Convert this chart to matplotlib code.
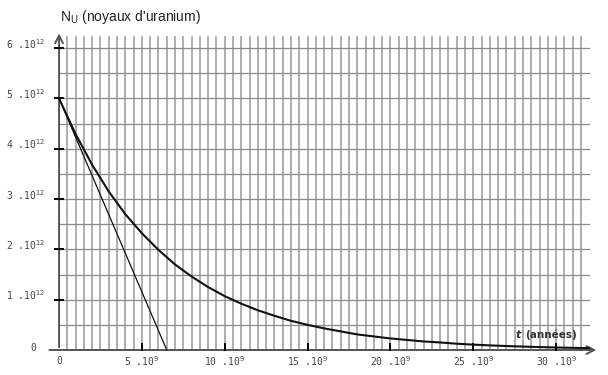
import matplotlib
matplotlib.use("Agg")
import matplotlib.pyplot as plt

# time in units of 1e9 years, N in units of 1e12 nuclei
t_vals = [0, 1, 2, 3, 4, 5, 6, 7, 8, 9, 10, 11, 12, 13, 14, 15, 16,
          17, 18, 19, 20, 21, 22, 23, 24, 25, 26, 27, 28, 29, 30, 31, 32]
n_vals = [5.00, 4.29, 3.68, 3.15, 2.70, 2.32, 1.99, 1.70, 1.46, 1.25, 1.07,
          0.92, 0.79, 0.68, 0.58, 0.50, 0.43, 0.37, 0.31, 0.27, 0.23, 0.20,
          0.17, 0.15, 0.125, 0.107, 0.092, 0.079, 0.068, 0.058, 0.050,
          0.043, 0.037]
tangent_t = [0, 6.5]
tangent_n = [5.0, 0]

y_ticks = [0, 1, 2, 3, 4, 5, 6]
y_labels = ["0", "1 .10$^{12}$", "2 .10$^{12}$", "3 .10$^{12}$",
            "4 .10$^{12}$", "5 .10$^{12}$", "6 .10$^{12}$"]
x_ticks = [5, 10, 15, 20, 25, 30]
x_labels = ["5 .10$^{9}$", "10 .10$^{9}$", "15 .10$^{9}$",
            "20 .10$^{9}$", "25 .10$^{9}$", "30 .10$^{9}$"]

fig = plt.figure(figsize=(6.08, 3.75), dpi=100)
ax = fig.add_axes([0.0767, 0.0264, 0.9197, 0.9123])
ax.set_xlim(-0.75, 33.0)
ax.set_ylim(-0.3, 6.5)
ax.axis("off")

# grid
for i in range(1, 64):
    x = i * 0.5
    ax.plot([x, x], [0, 6.22], color="#a8a8a8", lw=1.3, zorder=1)
for j in range(1, 13):
    y = j * 0.5
    ax.plot([0, 32], [y, y], color="#8a8a8a", lw=0.9, zorder=1)

# axes with arrows
ax.annotate("", xy=(32.6, 0), xytext=(-0.75, 0),
            arrowprops=dict(arrowstyle="->", color="#555555", lw=1.4,
                            mutation_scale=14), annotation_clip=False)
ax.annotate("", xy=(0, 6.35), xytext=(0, 0),
            arrowprops=dict(arrowstyle="->", color="#555555", lw=1.4,
                            mutation_scale=14), annotation_clip=False)

# ticks
for y in y_ticks[1:]:
    ax.plot([-0.25, 0.25], [y, y], color="black", lw=1.4, zorder=3)
for x in x_ticks:
    ax.plot([x, x], [0, 0.12], color="black", lw=1.4, zorder=3)

mono = dict(family="DejaVu Sans Mono", fontsize=7, color="#444444")
for y, lab in zip(y_ticks[1:], y_labels[1:]):
    ax.text(-0.85, y - 0.05, lab, ha="right", va="bottom", **mono)
ax.text(-1.4, 0.04, y_labels[0], ha="right", va="center", **mono)
for x, lab in zip(x_ticks, x_labels):
    ax.text(x, -0.08, lab, ha="center", va="top", **mono)
ax.text(0, -0.12, "0", ha="center", va="top", **mono)

# curves
ax.plot(t_vals, n_vals, color="#111111", lw=1.5, zorder=4)
ax.plot(tangent_t, tangent_n, color="#111111", lw=0.9, zorder=4)

ax.text(0.05, 6.45, "N$_\\mathregular{U}$ (noyaux d'uranium)", ha="left",
        va="bottom", fontsize=10, family="Liberation Sans", color="#222222")
ax.text(27.9, 0.3, "t", ha="right", va="center", fontsize=8,
        family="DejaVu Sans", fontweight="bold", fontstyle="italic",
        color="#333333")
ax.text(28.1, 0.3, "(années)", ha="left", va="center", fontsize=7.5,
        family="DejaVu Sans", fontweight="bold", color="#333333")

fig.savefig("out.png", dpi=100)
